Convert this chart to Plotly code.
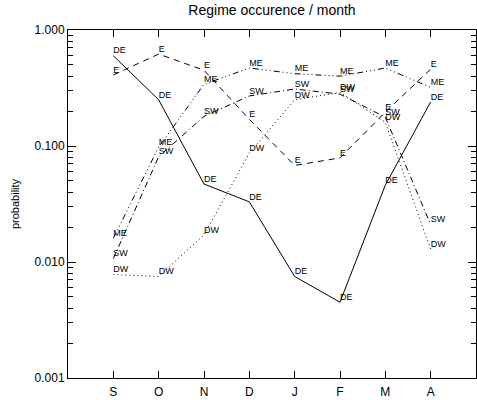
import plotly.graph_objects as go

months = ["S", "O", "N", "D", "J", "F", "M", "A"]
DE = [0.60, 0.25, 0.047, 0.033, 0.0075, 0.0045, 0.046, 0.24]
E = [0.41, 0.62, 0.45, 0.17, 0.068, 0.079, 0.196, 0.46]
ME = [0.016, 0.098, 0.34, 0.47, 0.42, 0.40, 0.47, 0.32]
SW = [0.0107, 0.081, 0.18, 0.27, 0.31, 0.28, 0.177, 0.021]
DW = [0.0078, 0.0075, 0.0171, 0.087, 0.25, 0.29, 0.16, 0.0129]

series = [
    ("DE", DE, "solid"),
    ("E", E, "6px,5px"),
    ("ME", ME, "6px,3px,1px,3px,1px,3px,1px,3px"),
    ("SW", SW, "6px,3px,1px,3px"),
    ("DW", DW, "1px,3px"),
]

xs = list(range(len(months)))
fig = go.Figure()
for name, vals, dash in series:
    fig.add_trace(go.Scatter(
        x=xs, y=vals, mode="lines+text", name=name,
        text=[name] * len(vals), textposition="top right",
        textfont=dict(size=9, color="black", family="Liberation Sans"),
        line=dict(color="black", width=1, dash=dash),
        showlegend=False,
    ))

fig.update_layout(
    width=477, height=400,
    margin=dict(l=68, r=1, t=30, b=22),
    paper_bgcolor="white", plot_bgcolor="white",
    font=dict(family="Liberation Sans", size=12, color="black"),
    title=dict(text="Regime occurence / month", x=0.5, xref="paper",
               y=0.988, yref="container", xanchor="center", yanchor="top",
               font=dict(size=14, color="black")),
)
fig.update_xaxes(
    range=[-1, 8], tickvals=xs, ticktext=months,
    ticks="inside", ticklen=7, tickcolor="black",
    ticklabelstandoff=3,
    showline=True, linecolor="black", linewidth=1, mirror="ticks",
    showgrid=False, zeroline=False,
)
yticks = [0.001, 0.01, 0.1, 1.0]
minor_vals = [m * 10 ** d for d in (-3, -2, -1) for m in range(2, 10)]
fig.update_yaxes(
    type="log", range=[-3, 0],
    tickvals=yticks, ticktext=["0.001", "0.010", "0.100", "1.000"],
    ticks="inside", ticklen=8, tickcolor="black",
    minor=dict(tickvals=minor_vals, ticks="inside", ticklen=5, tickcolor="black"),
    showline=True, linecolor="black", linewidth=1, mirror="ticks",
    showgrid=False, zeroline=False,
    title=dict(text="probability", standoff=12, font=dict(size=11)),
)

fig.write_html("out.html")
